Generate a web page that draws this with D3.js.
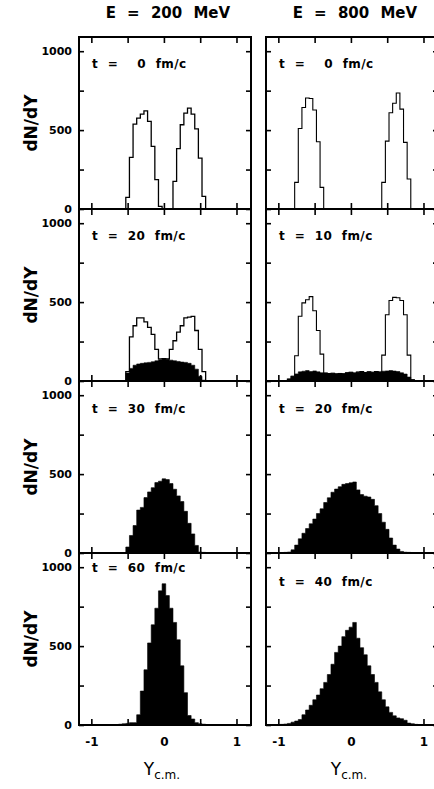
<!DOCTYPE html>
<html lang="en">
<head>
<meta charset="UTF-8">
<title>dN/dY</title>
<script src="https://cdn.jsdelivr.net/npm/d3@7"></script>
<style>
    body { margin: 0; background: #ffffff; }
    text { font-family: "DejaVu Sans", sans-serif; fill: #000; }
    .lab { font-weight: bold; font-size: 12px; white-space: pre; word-spacing: 5px; letter-spacing: 0.4px; }
</style>
</head>
<body>
<div id="container"></div>
<script>

    const binWidth = 0.05;
    const yTicks = [0, 250, 500, 750, 1000];
    const yTickLabels = [0, 500, 1000];
    const xTicks = [-1, -0.5, 0, 0.5, 1];
    const xTickLabels = [-1, 0, 1];
    const columnTitles = ["E = 200 MeV", "E = 800 MeV"];
    const timeLabels = [
        ["t =  0 fm/c", "t = 20 fm/c", "t = 30 fm/c", "t = 60 fm/c"],
        ["t =  0 fm/c", "t = 10 fm/c", "t = 20 fm/c", "t = 40 fm/c"]
    ];

    // histogram counts, first bin centred at `start`, bins 0.05 wide
    const e200_t0 = { start: -0.5, counts: [74, 327, 538, 576, 601, 622, 555, 397, 186, 17, 0, 0, 0,
        175, 382, 534, 608, 639, 601, 508, 323, 80] };
    const e200_t20 = { start: -0.5, counts: [60, 280, 350, 400, 400, 375, 340, 295, 200, 140, 142, 140,
        200, 255, 310, 350, 400, 405, 410, 320, 200, 60] };
    const e200_t20_fill = { start: -0.5, counts: [50, 80, 100, 108, 112, 115, 118, 122, 128, 135, 140, 138,
        132, 128, 124, 120, 118, 112, 100, 75, 30, 5] };
    const e200_t30_fill = { start: -0.5, counts: [38, 111, 174, 272, 289, 351, 387, 414, 446, 455, 470, 465,
        440, 404, 362, 326, 264, 188, 121, 48, 6, 4, 3, 3, 2] };
    const e200_t60_fill = { start: -0.75, counts: [2, 3, 3, 5, 8, 10, 15, 15, 65, 215, 350, 520, 635, 740,
        850, 895, 820, 740, 650, 540, 375, 205, 60, 38, 15, 8, 5, 3, 3, 2, 2] };

    const e800_t0 = { start: -0.75, counts: [169, 510, 643, 703, 700, 627, 426, 137,
        0, 0, 0, 0, 0, 0, 0, 0, 0, 0, 0, 0, 0, 0, 0, 0,
        169, 430, 610, 670, 735, 633, 422, 190] };
    const e800_t10 = { start: -0.85, counts: [12, 30, 160, 410, 495, 515, 535, 445, 320, 170,
        50, 47, 49, 45, 48, 46, 52, 55, 50, 56, 60, 54, 58, 55, 60, 57,
        164, 420, 510, 530, 528, 510, 420, 164, 8] };
    const e800_t10_fill = { start: -0.85, counts: [12, 30, 45, 58, 62, 66, 60, 64, 58, 52,
        50, 47, 49, 45, 48, 46, 52, 55, 50, 56, 60, 54, 58, 55, 60, 57,
        62, 64, 66, 63, 60, 52, 44, 25, 8] };
    const e800_t20_fill = { start: -1.0, counts: [3, 3, 4, 6, 20, 50, 90, 125, 155, 185, 215, 250, 280, 320,
        350, 385, 405, 420, 435, 440, 445, 450, 400, 370, 360, 355, 340, 300, 250, 195, 150, 95, 50, 25,
        10, 5, 4, 2] };
    const e800_t40_fill = { start: -1.0, counts: [2, 4, 6, 10, 18, 25, 35, 65, 95, 125, 160, 190, 230, 270,
        320, 385, 460, 500, 560, 600, 620, 650, 550, 490, 445, 375, 320, 270, 210, 160, 115, 80, 58, 45,
        40, 30, 12, 8, 4, 2] };

    const panels = [
        { col: 0, row: 0, open: e200_t0, fill: null, labelDy: 31 },
        { col: 0, row: 1, open: e200_t20, fill: e200_t20_fill, labelDy: 31 },
        { col: 0, row: 2, open: null, fill: e200_t30_fill, labelDy: 32 },
        { col: 0, row: 3, open: null, fill: e200_t60_fill, labelDy: 19 },
        { col: 1, row: 0, open: e800_t0, fill: null, labelDy: 31 },
        { col: 1, row: 1, open: e800_t10, fill: e800_t10_fill, labelDy: 31 },
        { col: 1, row: 2, open: null, fill: e800_t20_fill, labelDy: 32 },
        { col: 1, row: 3, open: null, fill: e800_t40_fill, labelDy: 33 }
    ];

    let svg = d3.select("#container")
        .append("svg")
        .attr("width", 434)
        .attr("height", 789)
        .style("background-color", "#ffffff");

    const colX = [79, 266];
    const rowY = [37, 209, 381, 553];
    const panelW = 172, panelH = 172;

    let x = d3.scaleLinear().domain([-1.17, 1.2]).range([0, panelW]);
    let y = d3.scaleLinear().domain([0, 1090]).range([panelH, 0]);

    function stepPoints(h) {
        let pts = [[h.start - binWidth / 2, 0]];
        h.counts.forEach((c, i) => {
            let x0 = h.start + (i - 0.5) * binWidth;
            pts.push([x0, c], [x0 + binWidth, c]);
        });
        pts.push([h.start + (h.counts.length - 0.5) * binWidth, 0]);
        return pts;
    }

    let line = d3.line().x(d => x(d[0])).y(d => y(d[1]));

    panels.forEach(p => {
        let g = svg.append("g")
            .attr("transform", "translate(" + colX[p.col] + "," + rowY[p.row] + ")");

        if (p.fill) {
            g.append("path")
                .attr("d", line(stepPoints(p.fill)) + "Z")
                .attr("fill", "#000")
                .attr("stroke", "#000")
                .attr("stroke-width", 0.6);
        }
        if (p.open) {
            g.append("path")
                .attr("d", line(stepPoints(p.open)))
                .attr("fill", "none")
                .attr("stroke", "#000")
                .attr("stroke-width", p.col === 0 ? 1.3 : 1.1);
        }

        // inward ticks on all four sides
        g.append("g").call(d3.axisLeft(y).tickValues(yTicks).tickSize(-5).tickFormat(""));
        g.append("g").attr("transform", "translate(" + panelW + ",0)")
            .call(d3.axisRight(y).tickValues(yTicks).tickSize(-5).tickFormat(""));
        g.append("g").call(d3.axisTop(x).tickValues(xTicks).tickSize(-6).tickFormat(""));
        g.append("g").attr("transform", "translate(0," + panelH + ")")
            .call(d3.axisBottom(x).tickValues(xTicks).tickSize(-6).tickFormat(""));
        g.selectAll(".domain").remove();
        g.selectAll(".tick line").attr("stroke", "#000").attr("stroke-width", 1.6);

        g.append("rect")
            .attr("width", panelW).attr("height", panelH)
            .attr("fill", "none").attr("stroke", "#000").attr("stroke-width", 2);

        g.append("text")
            .attr("class", "lab")
            .attr("x", 13).attr("y", p.labelDy)
            .text(timeLabels[p.col][p.row]);

        if (p.col === 0) {
            let ax = g.append("g")
                .call(d3.axisLeft(y).tickValues(yTickLabels).tickSize(0).tickPadding(7)
                    .tickFormat(d => String(d)));
            ax.select(".domain").remove();
            ax.selectAll("text")
                .style("font-family", "DejaVu Sans")
                .style("font-weight", "bold")
                .style("font-size", "11px");

            g.append("text")
                .attr("transform", "translate(-48," + panelH / 2 + ") rotate(-90)")
                .attr("text-anchor", "middle")
                .attr("dy", "0.35em")
                .style("font-weight", "bold")
                .style("font-size", "17px")
                .text("dN/dY");
        }

        if (p.row === 3) {
            let bx = g.append("g")
                .attr("transform", "translate(0," + panelH + ")")
                .call(d3.axisBottom(x).tickValues(xTickLabels).tickSize(0).tickPadding(12)
                    .tickFormat(d => String(d)));
            bx.select(".domain").remove();
            bx.selectAll("text")
                .style("font-family", "DejaVu Sans")
                .style("font-weight", "bold")
                .style("font-size", "12px");

            let yl = g.append("text")
                .attr("x", x(0) - 2)
                .attr("y", panelH + 50)
                .attr("text-anchor", "middle")
                .style("font-size", "17px");
            yl.append("tspan").text("Y");
            yl.append("tspan").attr("dy", 4).style("font-size", "12px").text("c.m.");
        }

        if (p.row === 0) {
            g.append("text")
                .attr("x", x(0) + 4)
                .attr("y", -19)
                .attr("text-anchor", "middle")
                .style("font-size", "15px")
                .style("word-spacing", "6px")
                .style("font-weight", "bold")
                .text(columnTitles[p.col]);
        }
    });

</script>
</body>
</html>
